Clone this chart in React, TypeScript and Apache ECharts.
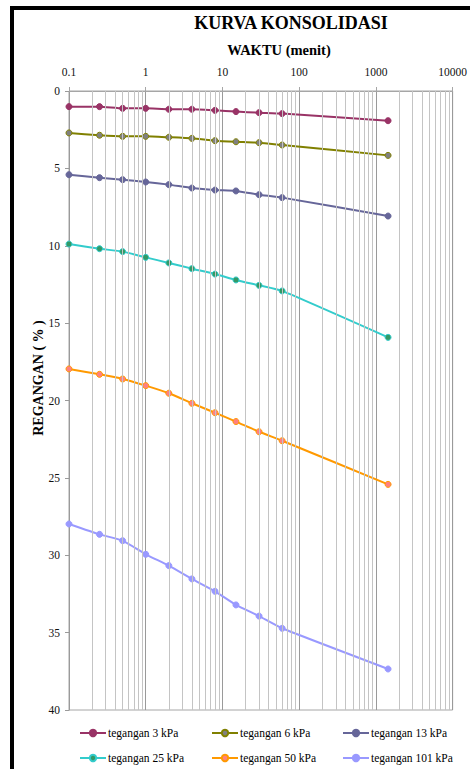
import { useEffect, useRef } from "react";
import * as echarts from "echarts";

// Elapsed time of each reading (minutes)
const times = [0.1, 0.25, 0.5, 1, 2, 4, 8, 15, 30, 60, 1440];

// Strain (%) per load step
const strain3 = [1.01, 1.01, 1.12, 1.12, 1.18, 1.18, 1.25, 1.33, 1.4, 1.46, 1.92];
const strain6 = [2.71, 2.86, 2.93, 2.93, 2.99, 3.06, 3.21, 3.28, 3.34, 3.49, 4.16];
const strain13 = [5.41, 5.6, 5.73, 5.88, 6.05, 6.27, 6.4, 6.46, 6.7, 6.89, 8.08];
const strain25 = [9.89, 10.19, 10.38, 10.75, 11.11, 11.48, 11.83, 12.21, 12.56, 12.92, 15.92];
const strain50 = [17.96, 18.31, 18.61, 19.04, 19.53, 20.18, 20.79, 21.36, 22.02, 22.6, 25.42];
const strain101 = [27.98, 28.65, 29.06, 29.94, 30.67, 31.53, 32.33, 33.21, 33.93, 34.72, 37.35];

const seriesNames = [
  "tegangan 3 kPa",
  "tegangan 6 kPa",
  "tegangan 13 kPa",
  "tegangan 25 kPa",
  "tegangan 50 kPa",
  "tegangan 101 kPa",
];
const seriesValues = [strain3, strain6, strain13, strain25, strain50, strain101];
const lineColors = ["#993366", "#808000", "#666699", "#33cccc", "#ff9900", "#9999ff"];
const markerColors = ["#993366", "#808080", "#666699", "#339966", "#ff8080", "#9999ff"];

// Log axis: decades and the intermediate multipliers for the minor grid
const decades = [0.1, 1, 10, 100, 1000];
const minorMultipliers = [2, 3, 4, 5, 6, 7, 8, 9];

const serif = "Liberation Serif";

export default function App() {
  const ref = useRef<HTMLDivElement>(null);

  useEffect(() => {
    if (!ref.current) return;
    const chart = echarts.init(ref.current, null, { renderer: "svg" });

    const minorLines = decades.flatMap((d) =>
      minorMultipliers.map((m) => ({ xAxis: +(d * m).toPrecision(6) }))
    );

    const legendPos = [
      [79, 727],
      [211, 727],
      [342, 727],
      [79, 752],
      [211, 752],
      [342, 752],
    ];

    const option: any = {
      animation: false,
      backgroundColor: "#ffffff",
      title: {
        text: "KURVA KONSOLIDASI",
        left: 291,
        top: 14,
        textAlign: "center",
        padding: 0,
        textStyle: {
          fontFamily: serif,
          fontWeight: "bold",
          fontSize: 18,
          color: "#000",
        },
      },
      grid: {
        left: 69,
        right: 14,
        top: 91,
        bottom: 59,
        show: true,
        borderColor: "#a6a6a6",
        borderWidth: 1,
        backgroundColor: "transparent",
      },
      xAxis: {
        type: "log",
        logBase: 10,
        position: "top",
        min: 0.1,
        max: 10000,
        interval: 1,
        axisLine: { show: true, lineStyle: { color: "#a6a6a6", width: 1 } },
        axisTick: { show: true, inside: false, length: 4, lineStyle: { color: "#a6a6a6" } },
        axisLabel: {
          margin: 13,
          fontFamily: serif,
          fontSize: 11.5,
          color: "#111",
          formatter: (v: number) => String(+Number(v).toPrecision(6)),
        },
        splitLine: { show: true, lineStyle: { color: "#9a9a9a", width: 1 } },
      },
      yAxis: {
        type: "value",
        inverse: true,
        min: 0,
        max: 40,
        interval: 5,
        axisLine: { show: true, lineStyle: { color: "#9a9a9a", width: 1 } },
        axisTick: { show: true, inside: false, length: 4, lineStyle: { color: "#9a9a9a" } },
        axisLabel: {
          margin: 9,
          fontFamily: serif,
          fontSize: 11.5,
          color: "#111",
        },
        splitLine: { show: false },
      },
      legend: seriesNames.map((name, i) => ({
        data: [name],
        left: legendPos[i][0],
        top: legendPos[i][1],
        padding: 0,
        itemWidth: 26,
        itemHeight: 8,
        itemGap: 0,
        selectedMode: false,
        textStyle: { fontFamily: serif, fontSize: 11.5, color: "#000", padding: [0, 0, 0, -3] },
      })),
      graphic: [
        {
          type: "rect",
          shape: { x: 10, y: 6, width: 4, height: 763 },
          style: { fill: "#000" },
          z: 10,
        },
        {
          type: "rect",
          shape: { x: 10, y: 6, width: 460, height: 4 },
          style: { fill: "#000" },
          z: 10,
        },
        {
          type: "text",
          x: 279,
          y: 50,
          style: {
            text: "WAKTU (menit)",
            fontFamily: serif,
            fontWeight: "bold",
            fontSize: 14.5,
            fill: "#000",
            textAlign: "center",
            textVerticalAlign: "middle",
          },
        },
        {
          type: "text",
          x: 38,
          y: 378,
          rotation: Math.PI / 2,
          style: {
            text: "REGANGAN ( % )",
            fontFamily: serif,
            fontWeight: "bold",
            fontSize: 14,
            fill: "#000",
            textAlign: "center",
            textVerticalAlign: "middle",
          },
        },
      ],
      series: [
        {
          name: "minor-grid",
          type: "line",
          data: [],
          silent: true,
          z: 1,
          markLine: {
            silent: true,
            symbol: "none",
            label: { show: false },
            lineStyle: { color: "#c4c4c4", width: 1, type: "solid" },
            emphasis: { disabled: true },
            data: minorLines,
          },
        },
        ...seriesNames.map((name, i) => ({
          name,
          type: "line",
          z: 3,
          data: times.map((t, j) => [t, seriesValues[i][j]]),
          smooth: 0.15,
          symbol: "circle",
          symbolSize: 6,
          lineStyle: { color: lineColors[i], width: 2 },
          itemStyle: { color: markerColors[i], borderColor: lineColors[i], borderWidth: 1 },
          emphasis: { disabled: true },
        })),
      ],
    };

    chart.setOption(option);
    return () => chart.dispose();
  }, []);

  return (
    <div
      ref={ref}
      style={{ position: "fixed", left: 0, top: 0, width: 470, height: 769 }}
    />
  );
}
